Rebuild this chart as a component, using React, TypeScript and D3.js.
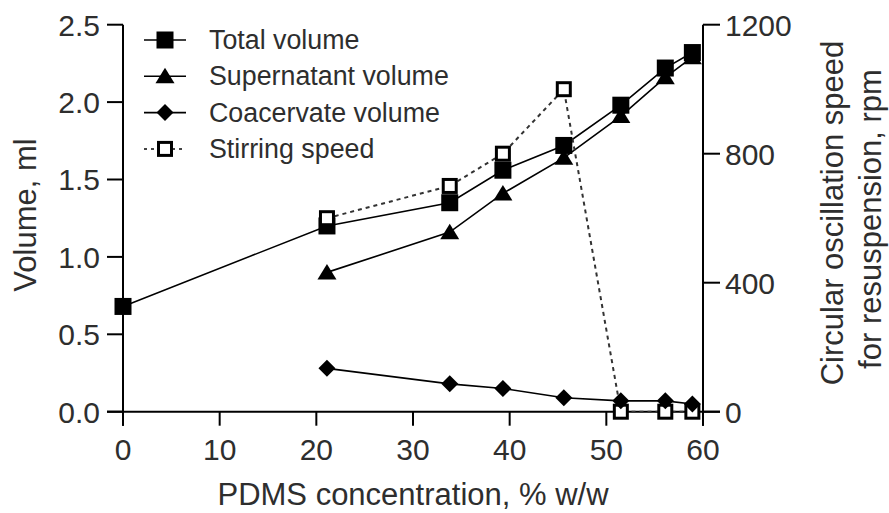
import React from "react";
import * as d3 from "d3";

// PDMS concentration (% w/w) for each sample
const pdmsTotal = [0, 21.1, 33.8, 39.3, 45.6, 51.5, 56.1, 58.9];
const pdms = [21.1, 33.8, 39.3, 45.6, 51.5, 56.1, 58.9];

// Volumes, ml
const totalVolume = [0.68, 1.2, 1.35, 1.56, 1.72, 1.98, 2.22, 2.32];
const supernatantVolume = [0.9, 1.16, 1.41, 1.64, 1.91, 2.16, 2.29];
const coacervateVolume = [0.28, 0.18, 0.15, 0.09, 0.07, 0.07, 0.05];

// Circular oscillation speed, rpm
const stirringSpeed = [600, 700, 800, 1000, 0, 0, 0];

const xTicks = [0, 10, 20, 30, 40, 50, 60];
const yTicks = [0, 0.5, 1, 1.5, 2, 2.5];
const y2Ticks = [0, 400, 800, 1200];

const legendLabels = ["Total volume", "Supernatant volume", "Coacervate volume", "Stirring speed"];

const W = 889;
const H = 513;
const FONT = "'Liberation Sans', Arial, Helvetica, sans-serif";
const TEXT = "#2e2e2e";

type Kind = "square" | "triangle" | "diamond" | "open";

function Marker({ x, y, kind }: { x: number; y: number; kind: Kind }) {
  if (kind === "square") {
    return <rect x={x - 8.5} y={y - 8.5} width={17} height={17} fill="#000" />;
  }
  if (kind === "open") {
    return (
      <rect x={x - 6.5} y={y - 6.5} width={13} height={13} fill="#fff" stroke="#000" strokeWidth={3} />
    );
  }
  if (kind === "triangle") {
    return <path d={`M${x},${y - 8.5}L${x + 9.5},${y + 7}L${x - 9.5},${y + 7}Z`} fill="#000" />;
  }
  return <path d={`M${x},${y - 8.5}L${x + 8.5},${y}L${x},${y + 8.5}L${x - 8.5},${y}Z`} fill="#000" />;
}

export default function App() {
  const x = d3.scaleLinear().domain([0, 60]).range([123, 703]);
  const y = d3.scaleLinear().domain([0, 2.5]).range([411.7, 24.7]);
  const y2 = d3.scaleLinear().domain([0, 1200]).range([411.7, 24.7]);

  const line = d3
    .line<[number, number]>()
    .x((d) => d[0])
    .y((d) => d[1]);

  const totalPts: [number, number][] = pdmsTotal.map((c, i) => [x(c), y(totalVolume[i])]);
  const superPts: [number, number][] = pdms.map((c, i) => [x(c), y(supernatantVolume[i])]);
  const coacPts: [number, number][] = pdms.map((c, i) => [x(c), y(coacervateVolume[i])]);
  const stirPts: [number, number][] = pdms.map((c, i) => [x(c), y2(stirringSpeed[i])]);

  const x0 = x(0);
  const x1 = x(60);
  const yBase = y(0);
  const yTop = y(2.5);

  const legendKinds: Kind[] = ["square", "triangle", "diamond", "open"];

  return (
    <svg width={W} height={H} style={{ display: "block", position: "absolute", left: 0, top: 0 }}>
      <rect width={W} height={H} fill="#fff" />

      {/* axes */}
      <g stroke="#000" strokeWidth={2} fill="none">
        <line x1={x0} y1={yTop} x2={x0} y2={yBase + 14} />
        <line x1={x1} y1={yTop} x2={x1} y2={yBase + 14} />
        <line x1={x0 - 16} y1={yBase} x2={x1 + 17} y2={yBase} />
        {yTicks.map((t) => (
          <line key={"yl" + t} x1={x0 - 16} x2={x0} y1={y(t)} y2={y(t)} />
        ))}
        {y2Ticks.map((t) => (
          <line key={"yr" + t} x1={x1} x2={x1 + 17} y1={y2(t)} y2={y2(t)} />
        ))}
        {xTicks.map((t) => (
          <line key={"xt" + t} x1={x(t)} x2={x(t)} y1={yBase} y2={yBase + 14} />
        ))}
      </g>

      {/* tick labels */}
      <g fontFamily={FONT} fontSize={30} fill={TEXT}>
        {yTicks.map((t) => (
          <text key={"yll" + t} x={x0 - 23} y={y(t)} dy="0.36em" textAnchor="end">
            {d3.format(".1f")(t)}
          </text>
        ))}
        {y2Ticks.map((t) => (
          <text key={"yrl" + t} x={x1 + 22} y={y2(t)} dy="0.36em" textAnchor="start">
            {t}
          </text>
        ))}
        {xTicks.map((t) => (
          <text key={"xtl" + t} x={x(t)} y={460} textAnchor="middle">
            {t}
          </text>
        ))}
      </g>

      {/* axis titles */}
      <g fontFamily={FONT} fontSize={31} fill={TEXT}>
        <text x={(x0 + x1) / 2} y={505} textAnchor="middle">
          PDMS concentration, % w/w
        </text>
        <text transform="translate(36,215) rotate(-90)" textAnchor="middle">
          Volume, ml
        </text>
        <text transform="translate(843,213) rotate(-90)" textAnchor="middle">
          Circular oscillation speed
        </text>
        <text transform="translate(881,219) rotate(-90)" textAnchor="middle">
          for resuspension, rpm
        </text>
      </g>

      {/* series lines */}
      <g fill="none">
        <path d={line(totalPts) || ""} stroke="#000" strokeWidth={1.6} />
        <path d={line(superPts) || ""} stroke="#000" strokeWidth={1.6} />
        <path d={line(coacPts) || ""} stroke="#000" strokeWidth={1.6} />
        <path d={line(stirPts) || ""} stroke="#333" strokeWidth={2} strokeDasharray="4 4" />
      </g>

      {/* markers */}
      {totalPts.map((p, i) => (
        <Marker key={"m1" + i} x={p[0]} y={p[1]} kind="square" />
      ))}
      {superPts.map((p, i) => (
        <Marker key={"m2" + i} x={p[0]} y={p[1]} kind="triangle" />
      ))}
      {stirPts.map((p, i) => (
        <Marker key={"m4" + i} x={p[0]} y={p[1]} kind="open" />
      ))}
      {coacPts.map((p, i) => (
        <Marker key={"m3" + i} x={p[0]} y={p[1]} kind="diamond" />
      ))}

      {/* legend */}
      <g>
        {legendLabels.map((label, i) => {
          const cy = 40 + i * 36.3;
          const dashed = legendKinds[i] === "open";
          return (
            <g key={label}>
              <line
                x1={144}
                x2={186}
                y1={cy}
                y2={cy}
                stroke={dashed ? "#444" : "#000"}
                strokeWidth={dashed ? 2 : 1.6}
                strokeDasharray={dashed ? "3 4" : undefined}
              />
              <Marker x={165} y={cy} kind={legendKinds[i]} />
              <text x={209} y={cy + 9} fontFamily={FONT} fontSize={26.8} fill={TEXT}>
                {label}
              </text>
            </g>
          );
        })}
      </g>
    </svg>
  );
}
